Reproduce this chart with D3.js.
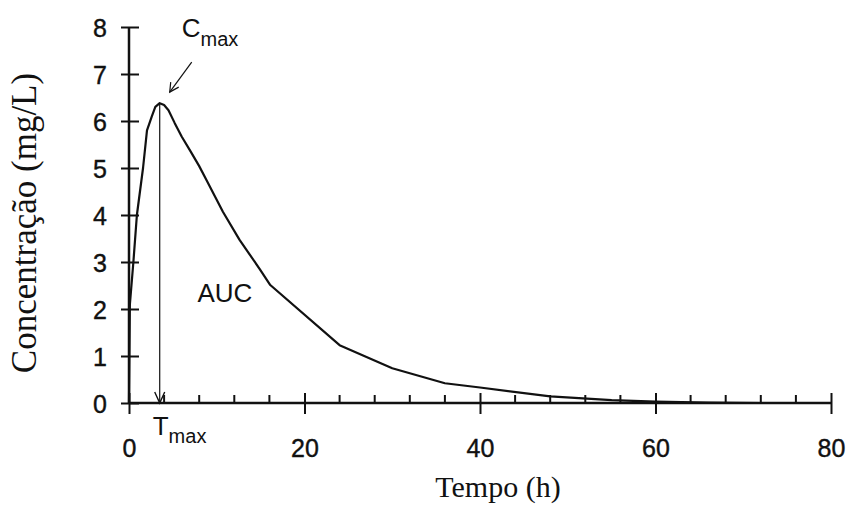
<!DOCTYPE html>
<html>
<head>
<meta charset="utf-8">
<script src="https://cdn.jsdelivr.net/npm/d3@7"></script>
<style>
  body { margin: 0; background: #fff; }
  svg { display: block; }
  .tick-label { font-family: "Liberation Sans", Arial, sans-serif; font-size: 25px; fill: #111; stroke: #111; stroke-width: 0.4px; }
  .title { font-family: "Liberation Serif", "Times New Roman", serif; fill: #111; }
  .annot { font-family: "Liberation Sans", Arial, sans-serif; fill: #111; }
</style>
</head>
<body>
<div id="vis-container"></div>
<script>
// concentration-time curve
var times = [0, 0.1, 0.5, 0.9, 1.6, 2.05, 2.6, 3.0, 3.5, 4.0, 4.5, 5.2, 6.0, 7.0, 8.0, 8.9, 10.7, 12.6, 14.9, 16.1, 24, 30, 36, 40, 48, 55, 60, 66, 72];
var conc  = [0, 2.1, 3.0, 4.0, 5.0, 5.8, 6.1, 6.3, 6.38, 6.34, 6.23, 5.96, 5.67, 5.36, 5.04, 4.72, 4.07, 3.47, 2.85, 2.51, 1.23, 0.74, 0.42, 0.33, 0.14, 0.06, 0.03, 0.01, 0];

var xTicks = [0, 20, 40, 60, 80];
var xMinor = d3.range(4, 80, 4).filter(function(d) { return d % 20 !== 0; });
var yTicks = [0, 1, 2, 3, 4, 5, 6, 7, 8];

var tmax = 3.5, cmax = 6.38;

var margin = { top: 27, right: 19, bottom: 102, left: 129 };
var width  = 850 - margin.left - margin.right;
var height = 505 - margin.top  - margin.bottom;

var xScale = d3.scaleLinear().domain([0, 80]).range([0, width]);
var yScale = d3.scaleLinear().domain([0, 8]).range([height, 0]);

var svg = d3.select("#vis-container")
  .append("svg")
    .attr("width", 850)
    .attr("height", 505)
  .append("g")
    .attr("transform", "translate(" + margin.left + "," + margin.top + ")");

// x axis
var xAxis = d3.axisBottom(xScale).tickValues(xTicks).tickSize(0).tickPadding(0).tickFormat("");
var gx = svg.append("g")
    .attr("transform", "translate(0," + height + ")")
    .call(xAxis);
gx.select(".domain").attr("stroke", "#111").attr("stroke-width", 2.5).attr("d", "M0,0H" + width);

// major x ticks cross the axis
gx.selectAll(".tick").append("line")
    .attr("y1", -10).attr("y2", 11)
    .attr("stroke", "#111").attr("stroke-width", 2);
gx.selectAll(".tick").append("text")
    .attr("class", "tick-label")
    .attr("y", 54)
    .attr("text-anchor", "middle")
    .text(function(d) { return d; });

// minor x ticks point up
gx.selectAll(".minor")
  .data(xMinor)
  .enter().append("line")
    .attr("class", "minor")
    .attr("x1", function(d) { return xScale(d); })
    .attr("x2", function(d) { return xScale(d); })
    .attr("y1", -8).attr("y2", 0)
    .attr("stroke", "#111").attr("stroke-width", 2);

// y axis
var yAxis = d3.axisLeft(yScale).tickValues(yTicks).tickSize(0).tickFormat("");
var gy = svg.append("g").call(yAxis);
gy.select(".domain").attr("stroke", "#111").attr("stroke-width", 2.5).attr("d", "M0," + height + "V0");
gy.selectAll(".tick").append("line")
    .attr("x1", -8).attr("x2", 10)
    .attr("stroke", "#111").attr("stroke-width", 2);
gy.selectAll(".tick").append("text")
    .attr("class", "tick-label")
    .attr("x", -22)
    .attr("dy", "0.36em")
    .attr("text-anchor", "end")
    .text(function(d) { return d; });

// curve (straight segments between readings, like the original)
var line = d3.line()
    .x(function(d, i) { return xScale(times[i]); })
    .y(function(d) { return yScale(d); });

svg.append("path")
    .datum(conc)
    .attr("fill", "none")
    .attr("stroke", "#111")
    .attr("stroke-width", 2.2)
    .attr("stroke-linejoin", "round")
    .attr("d", line);

// Tmax arrow
var tx = xScale(tmax);
svg.append("line")
    .attr("x1", tx).attr("x2", tx)
    .attr("y1", yScale(cmax)).attr("y2", yScale(0))
    .attr("stroke", "#111").attr("stroke-width", 1.2);
svg.append("path")
    .attr("d", "M" + (tx - 5) + "," + (yScale(0) - 11) + "L" + tx + "," + yScale(0) + "L" + (tx + 5) + "," + (yScale(0) - 11))
    .attr("fill", "none").attr("stroke", "#111").attr("stroke-width", 1.4);

// Cmax arrow
var hx = tx + 10, hy = yScale(cmax) - 11;
svg.append("line")
    .attr("x1", hx + 22).attr("y1", hy - 30)
    .attr("x2", hx).attr("y2", hy)
    .attr("stroke", "#111").attr("stroke-width", 1.2);
svg.append("path")
    .attr("d", "M" + (hx + 1) + "," + (hy - 10) + "L" + hx + "," + hy + "L" + (hx + 9) + "," + (hy - 5))
    .attr("fill", "none").attr("stroke", "#111").attr("stroke-width", 1.2);

// labels
var cLab = svg.append("text").attr("class", "annot")
    .attr("x", tx + 22).attr("y", yScale(cmax) - 66)
    .attr("font-size", 26);
cLab.append("tspan").text("C");
cLab.append("tspan").attr("dy", 9).attr("font-size", 20).text("max");

var tLab = svg.append("text").attr("class", "annot")
    .attr("x", tx - 7).attr("y", height + 32)
    .attr("font-size", 26);
tLab.append("tspan").text("T");
tLab.append("tspan").attr("dy", 8).attr("font-size", 20).text("max");

svg.append("text").attr("class", "annot")
    .attr("x", xScale(7.8)).attr("y", yScale(2.15))
    .attr("font-size", 26)
    .text("AUC");

// axis titles
svg.append("text").attr("class", "title")
    .attr("x", width / 2 + 18).attr("y", height + 94)
    .attr("text-anchor", "middle")
    .attr("font-size", 30)
    .text("Tempo (h)");

svg.append("text").attr("class", "title")
    .attr("transform", "translate(" + (36 - margin.left) + "," + (223 - margin.top) + ") rotate(-90)")
    .attr("text-anchor", "middle")
    .attr("font-size", 35)
    .text("Concentração (mg/L)");
</script>
</body>
</html>
